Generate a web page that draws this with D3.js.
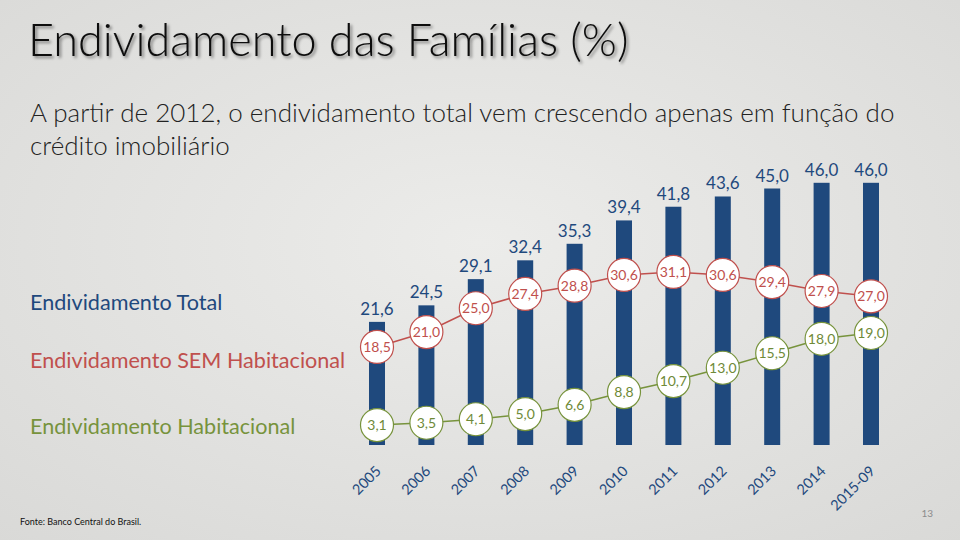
<!DOCTYPE html>
<html><head><meta charset="utf-8">
<script src="https://cdn.jsdelivr.net/npm/d3@7"></script>
<style>
html,body{margin:0;padding:0;background:#e4e4e2;}
svg{display:block;font-family:Lato,"Open Sans",sans-serif;}
</style></head>
<body>
<script>
const years = ["2005","2006","2007","2008","2009","2010","2011","2012","2013","2014","2015-09"];
const total = [21.6,24.5,29.1,32.4,35.3,39.4,41.8,43.6,45.0,46.0,46.0];
const semHab = [18.5,21.0,25.0,27.4,28.8,30.6,31.1,30.6,29.4,27.9,27.0];
const hab = [3.1,3.5,4.1,5.0,6.6,8.8,10.7,13.0,15.5,18.0,19.0];
const seriesNames = ["Endividamento Total","Endividamento SEM Habitacional","Endividamento Habitacional"];
const titleText = "Endividamento das Famílias (%)";
const subtitleLines = ["A partir de 2012, o endividamento total vem crescendo apenas em função do","crédito imobiliário"];
const sourceText = "Fonte: Banco Central do Brasil.";
const pageNum = "13";

const W = 960, H = 540;
const blue = "#1F497D", red = "#C0504D", green = "#77933C";
const fmt = v => d3.format(".1f")(v).replace(".", ",");

const svg = d3.select("body").append("svg").attr("width", W).attr("height", H);
const defs = svg.append("defs");
const rg = defs.append("radialGradient").attr("id","bg").attr("cx","50%").attr("cy","45%").attr("r","75%");
rg.append("stop").attr("offset","0%").attr("stop-color","#ececea");
rg.append("stop").attr("offset","100%").attr("stop-color","#d9d9d7");
const f = defs.append("filter").attr("id","shadow").attr("x","-5%").attr("y","-20%").attr("width","110%").attr("height","150%");
f.append("feDropShadow").attr("dx",2).attr("dy",2).attr("stdDeviation",1.5).attr("flood-color","#000").attr("flood-opacity",0.45);
svg.append("rect").attr("width",W).attr("height",H).attr("fill","url(#bg)");

// Title
svg.append("text").attr("x",28).attr("y",56).attr("font-size",45).attr("font-weight",300)
  .attr("fill","#111").attr("filter","url(#shadow)").text(titleText);
svg.selectAll("text.sub").data(subtitleLines).join("text").attr("class","sub")
  .attr("x",30).attr("y",(d,i)=>122+i*33).attr("font-size",26).attr("font-weight",300).attr("fill","#222").text(d=>d);

// Scales
const x = d3.scaleBand().domain(years).range([352.3, 895.7]).paddingInner(0.676).paddingOuter(0.338);
const cx = d => x(d) + x.bandwidth()/2;
const y = d3.scaleLinear().domain([0,50]).range([445,160]);
const yRed = d3.scaleLinear().domain([0,50]).range([457,159.5]);
const yGreen = d3.scaleLinear().domain([0,50]).range([443,153.5]);

// Bars
svg.append("g").selectAll("rect").data(years).join("rect")
  .attr("x", d=>x(d)).attr("width", x.bandwidth())
  .attr("y", (d,i)=>y(total[i])).attr("height",(d,i)=>y(0)-y(total[i]))
  .attr("fill", blue);
svg.append("g").selectAll("text").data(years).join("text")
  .attr("x", d=>cx(d)).attr("y",(d,i)=>y(total[i])-7).attr("text-anchor","middle")
  .attr("font-size",17).attr("fill",blue).text((d,i)=>fmt(total[i]));

// X axis
const ax = svg.append("g").attr("transform",`translate(0,${y(0)})`)
  .call(d3.axisBottom(x).tickSize(0).tickPadding(0));
ax.select(".domain").remove();
ax.selectAll("text").attr("font-family","Lato,'Open Sans',sans-serif").attr("font-size",14.5).attr("fill",blue)
  .attr("text-anchor","end").attr("dy",null).attr("y",null)
  .attr("transform","translate(5,27) rotate(-45)");

// Lines with circles
function drawSeries(vals, sc, color, textColor){
  const g = svg.append("g");
  g.append("path").datum(vals)
    .attr("d", d3.line().x((v,i)=>cx(years[i])).y(v=>sc(v)))
    .attr("fill","none").attr("stroke",color).attr("stroke-width",1.5);
  const n = g.selectAll("g").data(vals).join("g")
    .attr("transform",(v,i)=>`translate(${cx(years[i])},${sc(v)})`);
  n.append("circle").attr("r",16.5).attr("fill","#fff").attr("stroke",color).attr("stroke-width",1.2);
  n.append("text").attr("text-anchor","middle").attr("dy","0.36em").attr("font-size",14)
    .attr("fill",textColor).text(v=>fmt(v));
}
drawSeries(semHab, yRed, red, red);
drawSeries(hab, yGreen, green, "#6f8a38");

// Legend labels
const legColors = [blue, red, green];
const legY = [310, 368, 434];
svg.selectAll("text.leg").data(seriesNames).join("text").attr("class","leg")
  .attr("x",30).attr("y",(d,i)=>legY[i]).attr("font-size",21.6).attr("fill",(d,i)=>legColors[i]).text(d=>d);

// Footer
svg.append("text").attr("x",20).attr("y",525).attr("font-size",9).attr("fill","#111").text(sourceText);
svg.append("text").attr("x",933).attr("y",517).attr("text-anchor","end").attr("font-size",10).attr("fill","#8c8c8c").text(pageNum);
</script>
</body></html>
